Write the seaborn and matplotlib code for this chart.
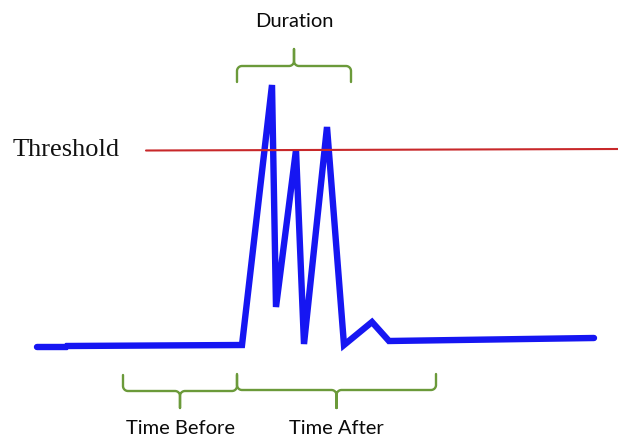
import numpy as np
import pandas as pd
import matplotlib
matplotlib.use("Agg")
import matplotlib.pyplot as plt
import seaborn as sns

# signal trace (time, level above baseline)
time_pts = [37, 66, 67, 242, 272, 276, 296, 304, 327, 344, 372, 389, 594]
signal = [-1, -1, 0, 1, 261, 39, 196, 2, 219, 1, 24, 5, 8]

# threshold line
thr_x = [146, 618]
thr_y = [195.5, 197]

# braces: (label, start, end, tip, bar, cusp)
brace_labels = ["Duration", "Time Before", "Time After"]
brace_start = [237, 123, 237]
brace_end = [351, 237, 436]
brace_tip = [264, -29, -28]
brace_bar = [280, -45, -44]
brace_cusp = [297, -62, -62]
label_y = [319, -88, -88]

sns.set_style("white")

def brace(x0, x1, tip, bar, cusp, rx=5, ry=5, n=12):
    s = np.sign(bar - tip)
    xm = (x0 + x1) / 2
    t = np.linspace(0, np.pi / 2, n)
    xs, ys = [x0], [tip]
    # left corner
    xs += list(x0 + rx - rx * np.cos(t)); ys += list(bar - s * ry + s * ry * np.sin(t))
    # into cusp
    xs += list(xm - rx + rx * np.sin(t)); ys += list(bar + s * ry - s * ry * np.cos(t))
    xs += [xm]; ys += [cusp]
    xs += [xm]; ys += [bar + s * ry]
    xs += list(xm + rx - rx * np.cos(t)); ys += list(bar + s * ry - s * ry * np.sin(t))
    xs += list(x1 - rx + rx * np.sin(t)); ys += list(bar - s * ry + s * ry * np.cos(t))
    xs += [x1]; ys += [tip]
    return xs, ys

fig = plt.figure(figsize=(6.18, 4.36), dpi=100)
ax = fig.add_axes([0, 0, 1, 1])

df = pd.DataFrame({"time": time_pts, "signal": signal})
sns.lineplot(data=df, x="time", y="signal", sort=False, color="#1616f2",
             linewidth=4.6, ax=ax, solid_joinstyle="miter", solid_capstyle="round")
ax.plot(thr_x, thr_y, color="#c8282a", linewidth=1.5)

for lab, x0, x1, tp, br, cs, ly in zip(brace_labels, brace_start, brace_end,
                                       brace_tip, brace_bar, brace_cusp, label_y):
    bx, by = brace(x0, x1, tp, br, cs)
    ax.plot(bx, by, color="#6b9a3a", linewidth=1.7)
    ax.text((x0 + x1) / 2, ly, lab, ha="center", va="baseline",
            fontsize=14.5, family=["Lato", "DejaVu Sans"], color="#0a0a0a")

ax.text(13, 190, "Threshold", ha="left", va="baseline", fontsize=19,
        family=["Liberation Serif", "DejaVu Serif"], color="#111111")

ax.set_xlim(0, 618)
ax.set_ylim(-90, 346)
ax.axis("off")

fig.savefig("out.png", dpi=100)
